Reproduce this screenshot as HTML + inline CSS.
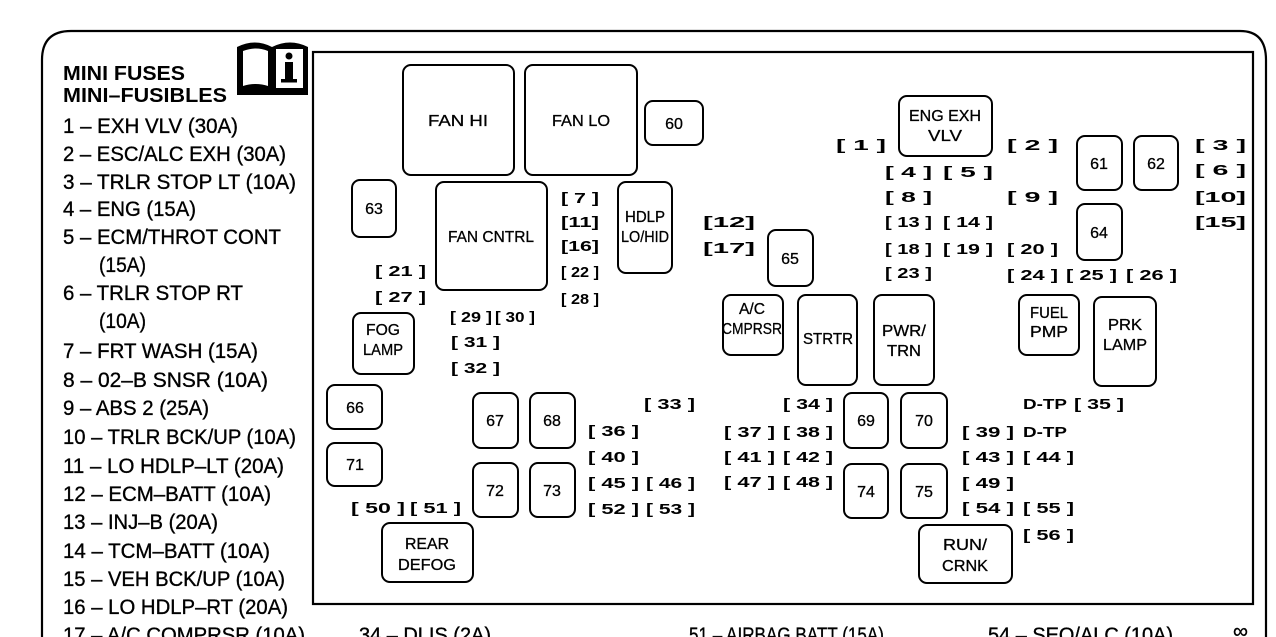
<!DOCTYPE html>
<html><head><meta charset="utf-8"><style>
html,body{margin:0;padding:0;background:#fff;}
svg{display:block;}
text{font-family:"Liberation Sans",sans-serif;fill:#000;}
.l{font-size:21px;stroke:#000;stroke-width:0.35;}
.h{font-size:20px;font-weight:bold;}
.b{font-size:16px;stroke:#000;stroke-width:0.3;}
.f{font-size:15px;font-weight:bold;}
</style></head><body>
<svg width="1276" height="637" viewBox="0 0 1276 637" xmlns="http://www.w3.org/2000/svg">
<g fill="none" stroke="#000" stroke-width="2.2">
<path d="M42 637 V60 Q42 31 71 31 H1240 Q1266 31 1266 60 V637"/>
<rect x="313" y="52" width="940" height="552"/>
</g>
<!-- book icon -->
<g>
<path d="M237 95 V47 Q255 38 272 47 Q290 38 308 47 V95 Z" fill="#000"/>
<path d="M243 86 V51 Q256 46 268 51 V86 Q256 82 243 86 Z" fill="#fff"/>
<rect x="276" y="49" width="27" height="39" fill="#fff"/>
<circle cx="289" cy="56" r="3.5" fill="#000"/>
<rect x="285" y="62" width="8" height="19" fill="#000"/>
<rect x="281" y="79" width="16" height="3.5" fill="#000"/>
</g>
<!-- left list -->
<text class="h" x="63" y="80" textLength="122" lengthAdjust="spacingAndGlyphs">MINI FUSES</text>
<text class="h" x="63" y="102" textLength="164" lengthAdjust="spacingAndGlyphs">MINI–FUSIBLES</text>
<g class="l">
<text x="63" y="133" textLength="175" lengthAdjust="spacingAndGlyphs">1 – EXH VLV (30A)</text>
<text x="63" y="161" textLength="223" lengthAdjust="spacingAndGlyphs">2 – ESC/ALC EXH (30A)</text>
<text x="63" y="189" textLength="233" lengthAdjust="spacingAndGlyphs">3 – TRLR STOP LT (10A)</text>
<text x="63" y="216" textLength="133" lengthAdjust="spacingAndGlyphs">4 – ENG (15A)</text>
<text x="63" y="244" textLength="218" lengthAdjust="spacingAndGlyphs">5 – ECM/THROT CONT</text>
<text x="99" y="272" textLength="47" lengthAdjust="spacingAndGlyphs">(15A)</text>
<text x="63" y="300" textLength="180" lengthAdjust="spacingAndGlyphs">6 – TRLR STOP RT</text>
<text x="99" y="328" textLength="47" lengthAdjust="spacingAndGlyphs">(10A)</text>
<text x="63" y="358" textLength="195" lengthAdjust="spacingAndGlyphs">7 – FRT WASH (15A)</text>
<text x="63" y="387" textLength="205" lengthAdjust="spacingAndGlyphs">8 – 02–B SNSR  (10A)</text>
<text x="63" y="415" textLength="146" lengthAdjust="spacingAndGlyphs">9 – ABS 2 (25A)</text>
<text x="63" y="444" textLength="233" lengthAdjust="spacingAndGlyphs">10 – TRLR BCK/UP (10A)</text>
<text x="63" y="473" textLength="221" lengthAdjust="spacingAndGlyphs">11 – LO HDLP–LT (20A)</text>
<text x="63" y="501" textLength="208" lengthAdjust="spacingAndGlyphs">12 – ECM–BATT (10A)</text>
<text x="63" y="529" textLength="155" lengthAdjust="spacingAndGlyphs">13 – INJ–B (20A)</text>
<text x="63" y="558" textLength="207" lengthAdjust="spacingAndGlyphs">14 – TCM–BATT (10A)</text>
<text x="63" y="586" textLength="222" lengthAdjust="spacingAndGlyphs">15 – VEH BCK/UP (10A)</text>
<text x="63" y="614" textLength="225" lengthAdjust="spacingAndGlyphs">16 – LO HDLP–RT (20A)</text>
<text x="63" y="642" textLength="242" lengthAdjust="spacingAndGlyphs">17 – A/C COMPRSR (10A)</text>
<text x="359" y="642" textLength="132" lengthAdjust="spacingAndGlyphs">34 – DLIS (2A)</text>
<text x="689" y="642" textLength="195" lengthAdjust="spacingAndGlyphs">51 – AIRBAG BATT (15A)</text>
<text x="988" y="642" textLength="185" lengthAdjust="spacingAndGlyphs">54 – SEO/ALC (10A)</text>
<text x="1233" y="638">∞</text>
</g>
<!-- boxes -->
<g fill="none" stroke="#000" stroke-width="2">
<rect x="403" y="65" width="111" height="110" rx="8"/>
<rect x="525" y="65" width="112" height="110" rx="8"/>
<rect x="436" y="182" width="111" height="108" rx="8"/>
<rect x="618" y="182" width="54" height="91" rx="8"/>
<rect x="899" y="96" width="93" height="60" rx="8"/>
<rect x="723" y="295" width="60" height="60" rx="8"/>
<rect x="798" y="295" width="59" height="90" rx="8"/>
<rect x="874" y="295" width="60" height="90" rx="8"/>
<rect x="1019" y="295" width="60" height="60" rx="8"/>
<rect x="1094" y="297" width="62" height="89" rx="8"/>
<rect x="353" y="313" width="61" height="61" rx="8"/>
<rect x="382" y="523" width="91" height="59" rx="8"/>
<rect x="919" y="525" width="93" height="58" rx="8"/>
<rect x="645" y="101" width="58" height="44" rx="8"/>
<rect x="352" y="180" width="44" height="57" rx="8"/>
<rect x="768" y="230" width="45" height="56" rx="8"/>
<rect x="1077" y="136" width="45" height="54" rx="8"/>
<rect x="1134" y="136" width="44" height="54" rx="8"/>
<rect x="1077" y="204" width="45" height="56" rx="8"/>
<rect x="327" y="385" width="55" height="44" rx="8"/>
<rect x="327" y="443" width="55" height="43" rx="8"/>
<rect x="473" y="393" width="45" height="55" rx="8"/>
<rect x="530" y="393" width="45" height="55" rx="8"/>
<rect x="473" y="463" width="45" height="54" rx="8"/>
<rect x="530" y="463" width="45" height="54" rx="8"/>
<rect x="844" y="393" width="44" height="55" rx="8"/>
<rect x="901" y="393" width="46" height="55" rx="8"/>
<rect x="844" y="464" width="44" height="54" rx="8"/>
<rect x="901" y="464" width="46" height="54" rx="8"/>
</g>
<g class="b" text-anchor="middle">
<text x="458" y="126" textLength="60" lengthAdjust="spacingAndGlyphs">FAN HI</text>
<text x="581" y="126" textLength="58" lengthAdjust="spacingAndGlyphs">FAN LO</text>
<text x="491" y="242" textLength="86" lengthAdjust="spacingAndGlyphs">FAN CNTRL</text>
<text x="645" y="222" textLength="40" lengthAdjust="spacingAndGlyphs">HDLP</text>
<text x="645" y="242" textLength="48" lengthAdjust="spacingAndGlyphs">LO/HID</text>
<text x="945" y="121" textLength="72" lengthAdjust="spacingAndGlyphs">ENG EXH</text>
<text x="945" y="141" textLength="34" lengthAdjust="spacingAndGlyphs">VLV</text>
<text x="752" y="314" textLength="26" lengthAdjust="spacingAndGlyphs">A/C</text>
<text x="752" y="334" textLength="60" lengthAdjust="spacingAndGlyphs">CMPRSR</text>
<text x="828" y="344" textLength="50" lengthAdjust="spacingAndGlyphs">STRTR</text>
<text x="904" y="336" textLength="44" lengthAdjust="spacingAndGlyphs">PWR/</text>
<text x="904" y="356" textLength="34" lengthAdjust="spacingAndGlyphs">TRN</text>
<text x="1049" y="318" textLength="38" lengthAdjust="spacingAndGlyphs">FUEL</text>
<text x="1049" y="337" textLength="38" lengthAdjust="spacingAndGlyphs">PMP</text>
<text x="1125" y="330" textLength="34" lengthAdjust="spacingAndGlyphs">PRK</text>
<text x="1125" y="350" textLength="44" lengthAdjust="spacingAndGlyphs">LAMP</text>
<text x="383" y="335" textLength="34" lengthAdjust="spacingAndGlyphs">FOG</text>
<text x="383" y="355" textLength="40" lengthAdjust="spacingAndGlyphs">LAMP</text>
<text x="427" y="549" textLength="44" lengthAdjust="spacingAndGlyphs">REAR</text>
<text x="427" y="570" textLength="58" lengthAdjust="spacingAndGlyphs">DEFOG</text>
<text x="965" y="550" textLength="44" lengthAdjust="spacingAndGlyphs">RUN/</text>
<text x="965" y="571" textLength="46" lengthAdjust="spacingAndGlyphs">CRNK</text>
<text x="674" y="129">60</text>
<text x="374" y="214">63</text>
<text x="790" y="264">65</text>
<text x="1099" y="169">61</text>
<text x="1156" y="169">62</text>
<text x="1099" y="238">64</text>
<text x="355" y="413">66</text>
<text x="355" y="470">71</text>
<text x="495" y="426">67</text>
<text x="552" y="426">68</text>
<text x="495" y="496">72</text>
<text x="552" y="496">73</text>
<text x="866" y="426">69</text>
<text x="924" y="426">70</text>
<text x="866" y="497">74</text>
<text x="924" y="497">75</text>
</g>
<!-- fuses -->
<g class="f">
<text x="561" y="203" textLength="38" lengthAdjust="spacingAndGlyphs">[ 7 ]</text>
<text x="561" y="227" textLength="38" lengthAdjust="spacingAndGlyphs">[11]</text>
<text x="561" y="251" textLength="38" lengthAdjust="spacingAndGlyphs">[16]</text>
<text x="561" y="277" textLength="38" lengthAdjust="spacingAndGlyphs">[ 22 ]</text>
<text x="561" y="304" textLength="38" lengthAdjust="spacingAndGlyphs">[ 28 ]</text>
<text x="375" y="276" textLength="51" lengthAdjust="spacingAndGlyphs">[ 21 ]</text>
<text x="375" y="302" textLength="51" lengthAdjust="spacingAndGlyphs">[ 27 ]</text>
<text x="450" y="322" textLength="42" lengthAdjust="spacingAndGlyphs">[ 29 ]</text>
<text x="495" y="322" textLength="40" lengthAdjust="spacingAndGlyphs">[ 30 ]</text>
<text x="451" y="347" textLength="49" lengthAdjust="spacingAndGlyphs">[ 31 ]</text>
<text x="451" y="373" textLength="49" lengthAdjust="spacingAndGlyphs">[ 32 ]</text>
<text x="703" y="227" textLength="52" lengthAdjust="spacingAndGlyphs">[12]</text>
<text x="703" y="253" textLength="52" lengthAdjust="spacingAndGlyphs">[17]</text>
<text x="836" y="150" textLength="50" lengthAdjust="spacingAndGlyphs">[ 1 ]</text>
<text x="1007" y="150" textLength="51" lengthAdjust="spacingAndGlyphs">[ 2 ]</text>
<text x="885" y="177" textLength="47" lengthAdjust="spacingAndGlyphs">[ 4 ]</text>
<text x="943" y="177" textLength="50" lengthAdjust="spacingAndGlyphs">[ 5 ]</text>
<text x="885" y="202" textLength="47" lengthAdjust="spacingAndGlyphs">[ 8 ]</text>
<text x="1007" y="202" textLength="51" lengthAdjust="spacingAndGlyphs">[ 9 ]</text>
<text x="885" y="227" textLength="47" lengthAdjust="spacingAndGlyphs">[ 13 ]</text>
<text x="943" y="227" textLength="50" lengthAdjust="spacingAndGlyphs">[ 14 ]</text>
<text x="885" y="254" textLength="47" lengthAdjust="spacingAndGlyphs">[ 18 ]</text>
<text x="943" y="254" textLength="50" lengthAdjust="spacingAndGlyphs">[ 19 ]</text>
<text x="1007" y="254" textLength="51" lengthAdjust="spacingAndGlyphs">[ 20 ]</text>
<text x="885" y="278" textLength="47" lengthAdjust="spacingAndGlyphs">[ 23 ]</text>
<text x="1007" y="280" textLength="51" lengthAdjust="spacingAndGlyphs">[ 24 ]</text>
<text x="1066" y="280" textLength="51" lengthAdjust="spacingAndGlyphs">[ 25 ]</text>
<text x="1126" y="280" textLength="51" lengthAdjust="spacingAndGlyphs">[ 26 ]</text>
<text x="1195" y="150" textLength="51" lengthAdjust="spacingAndGlyphs">[ 3 ]</text>
<text x="1195" y="175" textLength="51" lengthAdjust="spacingAndGlyphs">[ 6 ]</text>
<text x="1195" y="202" textLength="51" lengthAdjust="spacingAndGlyphs">[10]</text>
<text x="1195" y="227" textLength="51" lengthAdjust="spacingAndGlyphs">[15]</text>
<text x="644" y="409" textLength="51" lengthAdjust="spacingAndGlyphs">[ 33 ]</text>
<text x="588" y="436" textLength="51" lengthAdjust="spacingAndGlyphs">[ 36 ]</text>
<text x="588" y="462" textLength="51" lengthAdjust="spacingAndGlyphs">[ 40 ]</text>
<text x="588" y="488" textLength="51" lengthAdjust="spacingAndGlyphs">[ 45 ]</text>
<text x="588" y="514" textLength="51" lengthAdjust="spacingAndGlyphs">[ 52 ]</text>
<text x="646" y="488" textLength="49" lengthAdjust="spacingAndGlyphs">[ 46 ]</text>
<text x="646" y="514" textLength="49" lengthAdjust="spacingAndGlyphs">[ 53 ]</text>
<text x="351" y="513" textLength="54" lengthAdjust="spacingAndGlyphs">[ 50 ]</text>
<text x="410" y="513" textLength="51" lengthAdjust="spacingAndGlyphs">[ 51 ]</text>
<text x="783" y="409" textLength="50" lengthAdjust="spacingAndGlyphs">[ 34 ]</text>
<text x="724" y="437" textLength="51" lengthAdjust="spacingAndGlyphs">[ 37 ]</text>
<text x="783" y="437" textLength="50" lengthAdjust="spacingAndGlyphs">[ 38 ]</text>
<text x="724" y="462" textLength="51" lengthAdjust="spacingAndGlyphs">[ 41 ]</text>
<text x="783" y="462" textLength="50" lengthAdjust="spacingAndGlyphs">[ 42 ]</text>
<text x="724" y="487" textLength="51" lengthAdjust="spacingAndGlyphs">[ 47 ]</text>
<text x="783" y="487" textLength="50" lengthAdjust="spacingAndGlyphs">[ 48 ]</text>
<text x="1023" y="409" textLength="44" lengthAdjust="spacingAndGlyphs">D-TP</text>
<text x="1074" y="409" textLength="50" lengthAdjust="spacingAndGlyphs">[ 35 ]</text>
<text x="962" y="437" textLength="52" lengthAdjust="spacingAndGlyphs">[ 39 ]</text>
<text x="1023" y="437" textLength="44" lengthAdjust="spacingAndGlyphs">D-TP</text>
<text x="962" y="462" textLength="52" lengthAdjust="spacingAndGlyphs">[ 43 ]</text>
<text x="1023" y="462" textLength="51" lengthAdjust="spacingAndGlyphs">[ 44 ]</text>
<text x="962" y="488" textLength="52" lengthAdjust="spacingAndGlyphs">[ 49 ]</text>
<text x="962" y="513" textLength="52" lengthAdjust="spacingAndGlyphs">[ 54 ]</text>
<text x="1023" y="513" textLength="51" lengthAdjust="spacingAndGlyphs">[ 55 ]</text>
<text x="1023" y="540" textLength="51" lengthAdjust="spacingAndGlyphs">[ 56 ]</text>
</g>
</svg>
</body></html>
